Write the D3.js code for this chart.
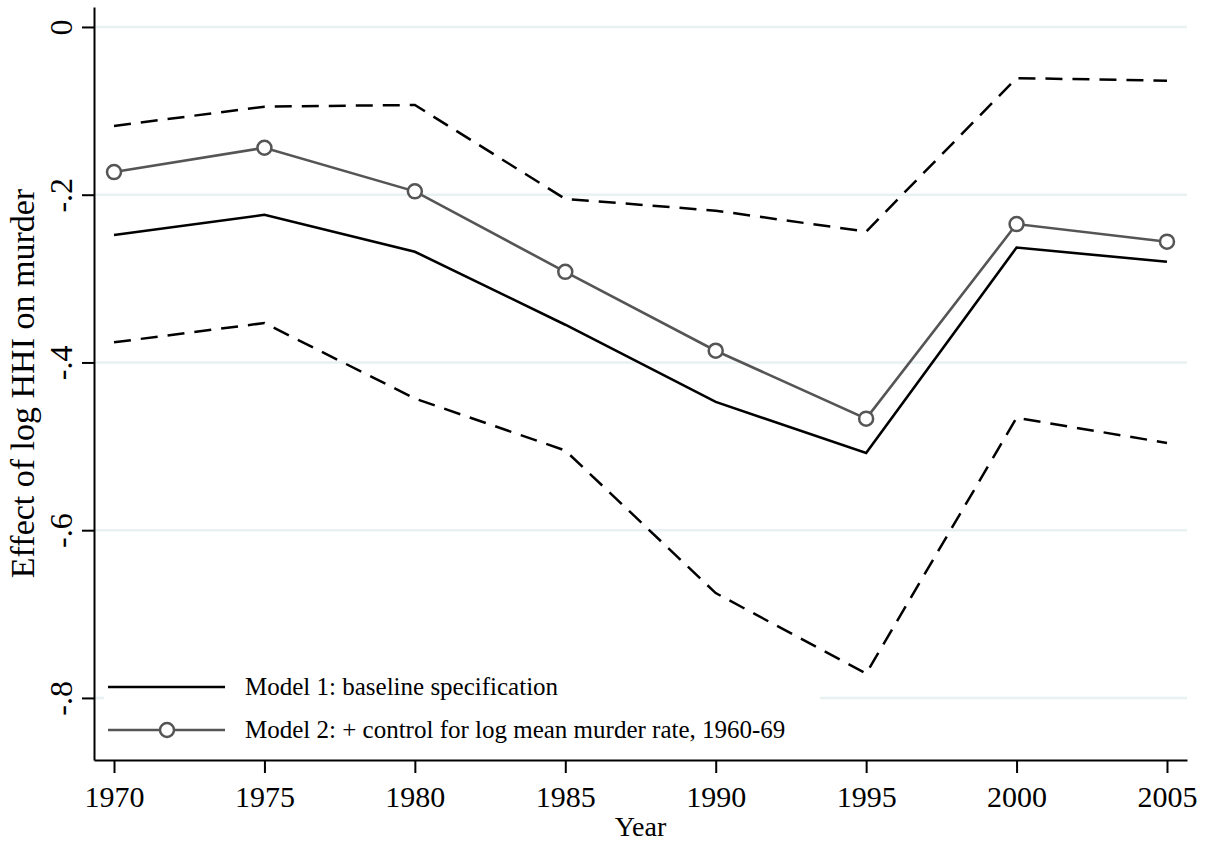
<!DOCTYPE html>
<html>
<head>
<meta charset="utf-8">
<script src="https://cdn.jsdelivr.net/npm/d3@7"></script>
<style>
  body { margin: 0; background: #fff; }
  svg { display: block; font-family: "Liberation Serif", "Times New Roman", serif; }
</style>
</head>
<body>
<div id="chart"></div>
<script>
const years = [1970, 1975, 1980, 1985, 1990, 1995, 2000, 2005];
const model1 = [-0.248, -0.224, -0.268, -0.355, -0.447, -0.508, -0.263, -0.280];
const model2 = [-0.173, -0.144, -0.196, -0.292, -0.386, -0.467, -0.235, -0.256];
const upperCI = [-0.118, -0.095, -0.093, -0.205, -0.219, -0.244, -0.061, -0.064];
const lowerCI = [-0.376, -0.353, -0.443, -0.505, -0.675, -0.771, -0.466, -0.496];
const yTicks = [0, -0.2, -0.4, -0.6, -0.8];
const yTickLabels = ["0", "-.2", "-.4", "-.6", "-.8"];
const legendLabels = ["Model 1: baseline specification", "Model 2: + control for log mean murder rate, 1960-69"];

const width = 1208, height = 846;
const plotL = 94, plotR = 1187, plotT = 7, plotB = 760;

const svg = d3.select("#chart").append("svg")
  .attr("width", width)
  .attr("height", height);

const x = d3.scaleLinear()
  .domain([1969.335, 2005.665])
  .range([plotL, plotR]);

const y = d3.scaleLinear()
  .domain([0.0238, -0.874])
  .range([plotT, plotB]);

// gridlines
svg.append("g")
  .selectAll("line")
  .data(yTicks)
  .enter().append("line")
    .attr("x1", plotL).attr("x2", plotR)
    .attr("y1", d => y(d)).attr("y2", d => y(d))
    .attr("stroke", "#e9f1f3")
    .attr("stroke-width", 2.5);

const pts = arr => arr.map((v, i) => [years[i], v]);
const line = d3.line().x(d => x(d[0])).y(d => y(d[1]));

// confidence bands (dashed)
[upperCI, lowerCI].forEach(s => {
  svg.append("path")
    .attr("d", line(pts(s)))
    .attr("fill", "none")
    .attr("stroke", "#000")
    .attr("stroke-width", 2.5)
    .attr("stroke-dasharray", "17,10");
});

svg.append("path")
  .attr("d", line(pts(model1)))
  .attr("fill", "none")
  .attr("stroke", "#000")
  .attr("stroke-width", 2.6);

svg.append("path")
  .attr("d", line(pts(model2)))
  .attr("fill", "none")
  .attr("stroke", "#555")
  .attr("stroke-width", 2.6);

svg.append("g")
  .selectAll("circle")
  .data(pts(model2))
  .enter().append("circle")
    .attr("cx", d => x(d[0]))
    .attr("cy", d => y(d[1]))
    .attr("r", 7)
    .attr("fill", "#fff")
    .attr("stroke", "#555")
    .attr("stroke-width", 2.5);

// legend
const legend = svg.append("g");
legend.append("rect")
  .attr("x", 104).attr("y", 662)
  .attr("width", 716).attr("height", 92)
  .attr("fill", "#fff");

const rows = legend.selectAll(".row")
  .data(legendLabels)
  .enter().append("g")
    .attr("class", "row")
    .attr("transform", (d, i) => `translate(0, ${687 + i * 43})`);

rows.append("line")
  .attr("x1", 108).attr("x2", 225)
  .attr("stroke", (d, i) => i ? "#555" : "#000")
  .attr("stroke-width", 2.6);

rows.filter((d, i) => i === 1).append("circle")
  .attr("cx", 167).attr("r", 7)
  .attr("fill", "#fff")
  .attr("stroke", "#555")
  .attr("stroke-width", 2.5);

rows.append("text")
  .attr("x", 245)
  .attr("dy", "0.33em")
  .style("font-size", "25px")
  .text(d => d);

// axes
const yAxis = svg.append("g")
  .attr("transform", `translate(${plotL},0)`)
  .call(d3.axisLeft(y).tickValues(yTicks).tickSize(12).tickSizeOuter(0)
    .tickFormat((d, i) => yTickLabels[i]));
yAxis.selectAll("text")
  .attr("x", null).attr("dy", null)
  .attr("transform", "translate(-22,0) rotate(-90)")
  .attr("text-anchor", "middle")
  .attr("fill", "#000")
  .style("font-size", "32px")
  .style("font-family", "Liberation Serif");

const xAxis = svg.append("g")
  .attr("transform", `translate(0,${plotB})`)
  .call(d3.axisBottom(x).tickValues(years).tickSize(13).tickSizeOuter(0)
    .tickFormat(d3.format("d")));
xAxis.selectAll("text")
  .attr("y", 47).attr("dy", null)
  .attr("fill", "#000")
  .style("font-size", "30px")
  .style("font-family", "Liberation Serif");

svg.selectAll(".domain, .tick line")
  .attr("stroke", "#000")
  .attr("stroke-width", 2);

svg.append("text")
  .attr("x", (plotL + plotR) / 2)
  .attr("y", 836)
  .attr("text-anchor", "middle")
  .style("font-size", "28px")
  .text("Year");

svg.append("text")
  .attr("transform", `translate(34, ${(plotT + plotB) / 2}) rotate(-90)`)
  .attr("text-anchor", "middle")
  .style("font-size", "34px")
  .text("Effect of log HHI on murder");
</script>
</body>
</html>
